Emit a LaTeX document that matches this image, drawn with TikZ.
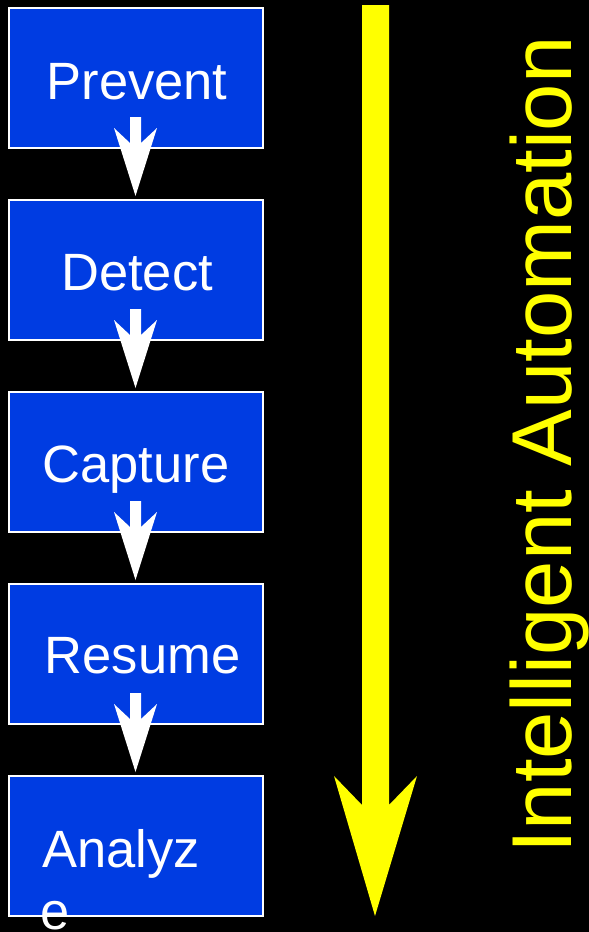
\documentclass[tikz,border=0pt]{standalone}
\usepackage{fontspec}
\setmainfont{Liberation Sans}
\usetikzlibrary{calc}
\definecolor{boxblue}{RGB}{0,60,226}
\definecolor{autoyellow}{RGB}{255,255,0}
\begin{document}
\begin{tikzpicture}[x=1pt,y=-1pt,
  stage/.style={draw=white,line width=2pt,fill=boxblue,minimum width=254pt,
    minimum height=140pt,inner sep=0pt,outer sep=0pt},
  stagetext/.style={text=white,font=\fontsize{52.5}{62}\selectfont,inner sep=0pt},
  flow/.style={fill=white,draw=none},
  bigflow/.style={fill=autoyellow,draw=none}]
% black page
\fill[black] (0,0) rectangle (589,932);
\useasboundingbox (0,0) rectangle (589,932);

% process stages
\node[stage] (prevent) at (136,78) {};
\node[stage] (detect)  at (136,270) {};
\node[stage] (capture) at (136,462) {};
\node[stage] (resume)  at (136,654) {};
\node[stage] (analyze) at (136,846) {};

% block arrows from stage to stage
\foreach \a/\b in {prevent/detect,detect/capture,capture/resume,resume/analyze}{
  \fill[flow] ($(\a.center)+(-6,39)$) -- ($(\a.center)+(5,39)$)
    -- ($(\a.center)+(5,65)$) -- ($(\a.center)+(21,50)$)
    -- ($(\b.north)+(-0.5,-4)$)
    -- ($(\a.center)+(-22,50)$) -- ($(\a.center)+(-6,65)$) -- cycle;
}

% stage labels
\node[stagetext,anchor=base] (tprevent) at (137,99) {Prevent};
\node[stagetext,anchor=base] (tdetect)  at (137,290) {Detect};
\node[stagetext,anchor=base] (tcapture) at (136,482) {Capture};
\node[stagetext,anchor=base] (tresume)  at (142.5,673) {Resume};
\node[stagetext,anchor=base west] (tanalyze1) at (42,867) {Analyz};
\node[stagetext,anchor=base west] (tanalyze2) at (40,929) {e};

% long yellow arrow
\coordinate (ytop) at (375.5,5);
\coordinate (ytip) at (375,916);
\fill[bigflow] ($(ytop)+(-13.5,0)$) -- ($(ytop)+(13.5,0)$)
  -- ($(ytop)+(13.5,800)$) -- ($(ytop)+(41.5,771)$) -- (ytip)
  -- ($(ytop)+(-41.5,771)$) -- ($(ytop)+(-13.5,800)$) -- cycle;

% side caption
\node[text=autoyellow,font=\fontsize{85}{100}\selectfont,rotate=90,
  anchor=base west,inner sep=0pt] (caption) at (571,854) {Intelligent Automation};
\end{tikzpicture}
\end{document}
